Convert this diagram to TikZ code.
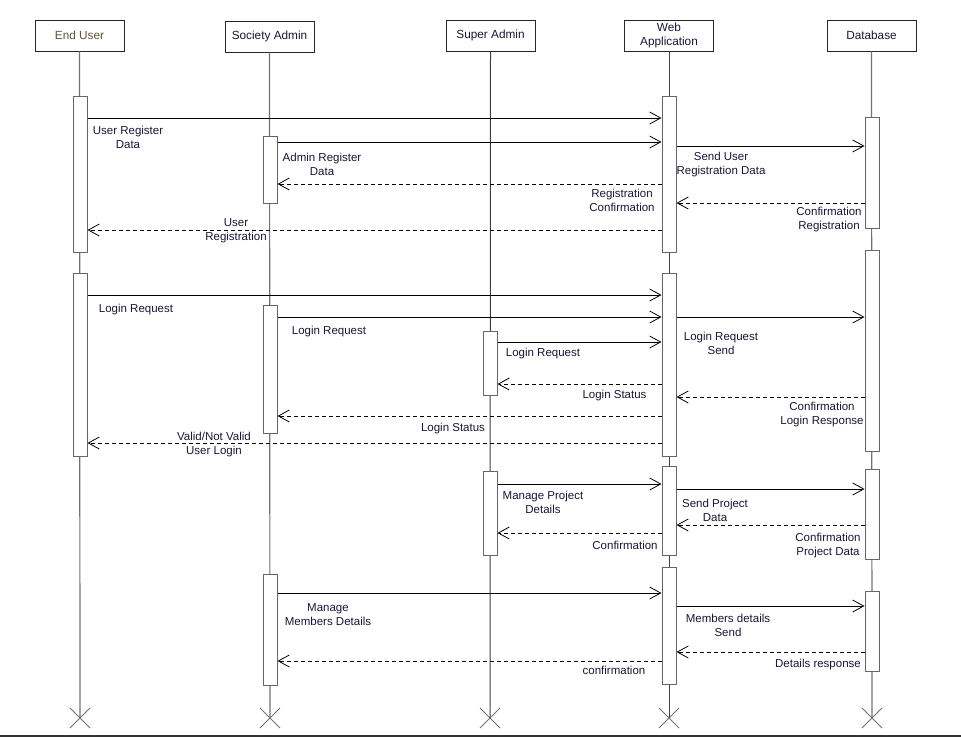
\documentclass[tikz,border=0pt]{standalone}
\usepackage{fontspec}
\setmainfont{Liberation Sans}
\usetikzlibrary{arrows.meta,shapes.misc}
\definecolor{txt}{RGB}{30,20,55}
\definecolor{eutxt}{RGB}{95,85,60}
\begin{document}
\begin{tikzpicture}[x=1pt,y=-1pt,
  font=\fontsize{11.5}{14}\selectfont,
  head/.style={draw=black!85, line width=0.9pt, minimum width=89pt, minimum height=31pt, inner sep=1pt, align=center, fill=white, text=txt, font=\fontsize{11.8}{14}\selectfont},
  act/.style={draw=black!60, line width=1pt, fill=white, minimum width=14pt, inner sep=0pt},
  life/.style={draw=black!55, line width=1.2pt},
  xmark/.style={cross out, draw=black!55, line width=1pt, minimum size=19pt, inner sep=0pt},
  call/.style={draw=black, line width=0.8pt, -{Straight Barb[length=11pt,width=12pt,line width=0.8pt]}},
  ret/.style={call, dash pattern=on 4pt off 3pt},
  lbl/.style={align=center, inner sep=0pt, text=txt, yshift=-1.5pt}
]
\useasboundingbox (0,0) rectangle (961,737);
\fill[white] (0,0) rectangle (961,737);

% headers
\node[head, text=eutxt] (eu) at (79.5,35.5) {End User};
\node[head] (sa) at (269.5,36.5) {Society Admin};
\node[head] (su) at (490.5,35.5) {Super Admin};
\node[head] (wa) at (669,35.5) {Web\\Application};
\node[head] (db) at (871.5,35.5) {Database};

% lifeline ends
\node[xmark] (euend) at (80,718) {};
\node[xmark] (saend) at (270,718) {};
\node[xmark] (suend) at (490,718) {};
\node[xmark] (waend) at (669,718) {};
\node[xmark] (dbend) at (872,718) {};

% lifelines
\draw[life] (eu.south) -- (euend.center);
\draw[life] (sa.south) -- (saend.center);
\draw[life, draw=black!75, line width=1pt] (su.south) -- (suend.center);
\draw[life, draw=black!75, line width=1pt] (wa.south) -- (waend.center);
\draw[life] (db.south) -- (dbend.center);

% activations
\node[act, minimum height=156pt] (eu1) at (80,174) {};
\node[act, minimum height=183pt] (eu2) at (80,364.5) {};
\node[act, minimum height=67pt] (sa1) at (270,169.5) {};
\node[act, minimum height=128pt] (sa2) at (270,369) {};
\node[act, minimum height=111pt] (sa3) at (270,629.5) {};
\node[act, minimum height=64pt] (su1) at (490,363) {};
\node[act, minimum height=84pt] (su2) at (490,513) {};
\node[act, minimum height=156pt] (wa1) at (669,174) {};
\node[act, minimum height=183pt] (wa2) at (669,364.5) {};
\node[act, minimum height=89pt] (wa3) at (669,510.5) {};
\node[act, minimum height=117pt] (wa4) at (669,625.5) {};
\node[act, minimum height=111pt] (db1) at (872,172.5) {};
\node[act, minimum height=201pt] (db2) at (872,350.5) {};
\node[act, minimum height=90pt] (db3) at (872,514) {};
\node[act, minimum height=80pt] (db4) at (872,631) {};

% registration
\draw[call] (eu1.east |- 0,118) -- (wa1.west |- 0,118);
\node[lbl] (m1) at (128,136) {User Register\\Data};
\draw[call] (sa1.east |- 0,142) -- (wa1.west |- 0,142);
\node[lbl] (m2) at (322,163) {Admin Register\\Data};
\draw[call] (wa1.east |- 0,146) -- (db1.west |- 0,146);
\node[lbl] (m3) at (721,163) {Send User\\Registration Data};
\draw[ret] (wa1.west |- 0,184) -- (sa1.east |- 0,184);
\node[lbl] (m4) at (622,199) {Registration\\Confirmation};
\draw[ret] (db1.west |- 0,203) -- (wa1.east |- 0,203);
\node[lbl] (m5) at (829,218) {Confirmation\\Registration};
\draw[ret] (wa1.west |- 0,230) -- (eu1.east |- 0,230);
\node[lbl] (m6) at (236,229) {User\\Registration};

% login
\draw[call] (eu2.east |- 0,295) -- (wa2.west |- 0,295);
\node[lbl] (m7) at (136,308) {Login Request};
\draw[call] (sa2.east |- 0,317) -- (wa2.west |- 0,317);
\node[lbl] (m8) at (329,330) {Login Request};
\draw[call] (wa2.east |- 0,317) -- (db2.west |- 0,317);
\node[lbl] (m9) at (721,342) {Login Request\\Send};
\draw[call] (su1.east |- 0,342) -- (wa2.west |- 0,342);
\node[lbl] (m10) at (543,352) {Login Request};
\draw[ret] (wa2.west |- 0,384) -- (su1.east |- 0,384);
\node[lbl] (m11) at (614.5,394) {Login Status};
\draw[ret] (db2.west |- 0,397) -- (wa2.east |- 0,397);
\node[lbl] (m12) at (822,413) {Confirmation\\Login Response};
\draw[ret] (wa2.west |- 0,416) -- (sa2.east |- 0,416);
\node[lbl] (m13) at (453,427) {Login Status};
\draw[ret] (wa2.west |- 0,443) -- (eu2.east |- 0,443);
\node[lbl] (m14) at (214,443) {Valid/Not Valid\\User Login};

% project details
\draw[call] (su2.east |- 0,484) -- (wa3.west |- 0,484);
\node[lbl] (m15) at (543,501) {Manage Project\\Details};
\draw[call] (wa3.east |- 0,489) -- (db3.west |- 0,489);
\node[lbl] (m16) at (715,509) {Send Project\\Data};
\draw[ret] (db3.west |- 0,525) -- (wa3.east |- 0,525);
\node[lbl] (m17) at (828,544) {Confirmation\\Project Data};
\draw[ret] (wa3.west |- 0,533) -- (su2.east |- 0,533);
\node[lbl] (m18) at (625,544) {Confirmation};

% members
\draw[call] (sa3.east |- 0,593) -- (wa4.west |- 0,593);
\node[lbl] (m19) at (328,613) {Manage\\Members Details};
\draw[call] (wa4.east |- 0,606) -- (db4.west |- 0,606);
\node[lbl] (m20) at (728,624) {Members details\\Send};
\draw[ret] (db4.west |- 0,652) -- (wa4.east |- 0,652);
\node[lbl] (m21) at (818,663) {Details response};
\draw[ret] (wa4.west |- 0,661) -- (sa3.east |- 0,661);
\node[lbl] (m22) at (614,669) {confirmation};

% bottom rule
\coordinate (bl) at (0,736);
\coordinate (br) at (961,736);
\draw[black!80, line width=2pt] (bl) -- (br);
\end{tikzpicture}
\end{document}
